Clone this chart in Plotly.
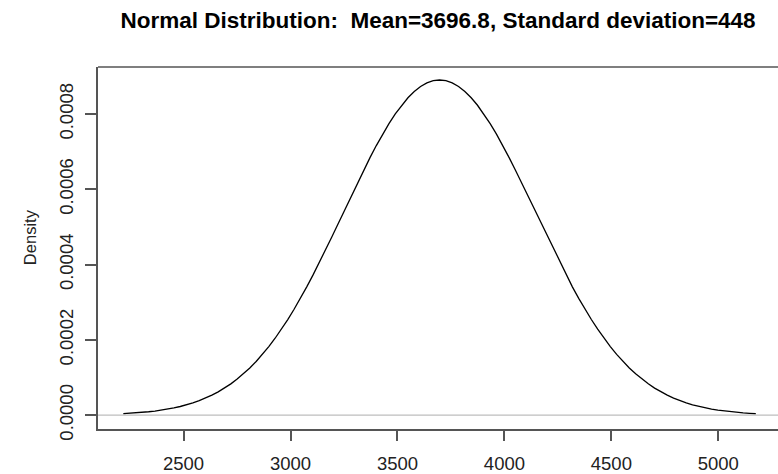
import numpy as np
import plotly.graph_objects as go

# Distribution parameters shown in the title
MEAN = 3696.8
SD = 448

# Curve evaluated over mean +/- 3.3 standard deviations
z_span = 3.3
n_points = 101
x_vals = np.linspace(MEAN - z_span * SD, MEAN + z_span * SD, n_points)
density = np.exp(-0.5 * ((x_vals - MEAN) / SD) ** 2) / (SD * np.sqrt(2 * np.pi))

x_ticks = [2500, 3000, 3500, 4000, 4500, 5000]
y_ticks = [0.0, 0.0002, 0.0004, 0.0006, 0.0008]
y_tick_text = ["0.0000", "0.0002", "0.0004", "0.0006", "0.0008"]

axis_col = "#555555"
font_family = "Liberation Sans, Arial, sans-serif"

fig = go.Figure()
fig.add_trace(go.Scatter(
    x=x_vals, y=density, mode="lines",
    line=dict(color="black", width=1.3),
    hoverinfo="skip", showlegend=False,
))

# horizontal reference line at zero density
fig.add_shape(type="line", xref="paper", yref="y", x0=0, x1=1, y0=0, y1=0,
              line=dict(color="#BEBEBE", width=1.2), layer="below")
# top border of the plot box
fig.add_shape(type="line", xref="paper", yref="paper", x0=0, x1=1, y0=1, y1=1,
              line=dict(color=axis_col, width=1.5))

fig.update_layout(
    width=778, height=474,
    margin=dict(l=98, r=0, t=67, b=43),
    paper_bgcolor="white", plot_bgcolor="white",
    font=dict(family=font_family, color="black", size=18),
    title=dict(
        text="<b>Normal Distribution:  Mean=3696.8, Standard deviation=448</b>",
        x=438 / 778, xanchor="center", y=1 - 20 / 474, yanchor="middle",
        font=dict(size=22.5, family=font_family, color="black"),
    ),
    xaxis=dict(
        range=[2100, 5279], tickvals=x_ticks, ticks="outside", ticklen=10,
        tickwidth=1.5, tickcolor=axis_col, showline=True, linecolor=axis_col,
        linewidth=1.5, showgrid=False, zeroline=False,
        tickfont=dict(size=18.5, color="#222222"), ticklabelstandoff=7,
    ),
    yaxis=dict(
        range=[-0.0000369, 0.000925], tickvals=y_ticks, ticktext=y_tick_text,
        ticks="outside", ticklen=11, tickwidth=1.5, tickcolor=axis_col,
        showline=True, linecolor=axis_col, linewidth=1.5, showgrid=False,
        zeroline=False, tickangle=-90,
        tickfont=dict(size=18.5, color="#222222"), ticklabelstandoff=5,
    ),
    annotations=[dict(
        text="Density", xref="paper", yref="paper",
        x=-68 / 680, y=0.53, xanchor="center", yanchor="middle",
        textangle=-90, showarrow=False,
        font=dict(size=16.5, family=font_family, color="#222222"),
    )],
)

fig.write_html("out.html")
